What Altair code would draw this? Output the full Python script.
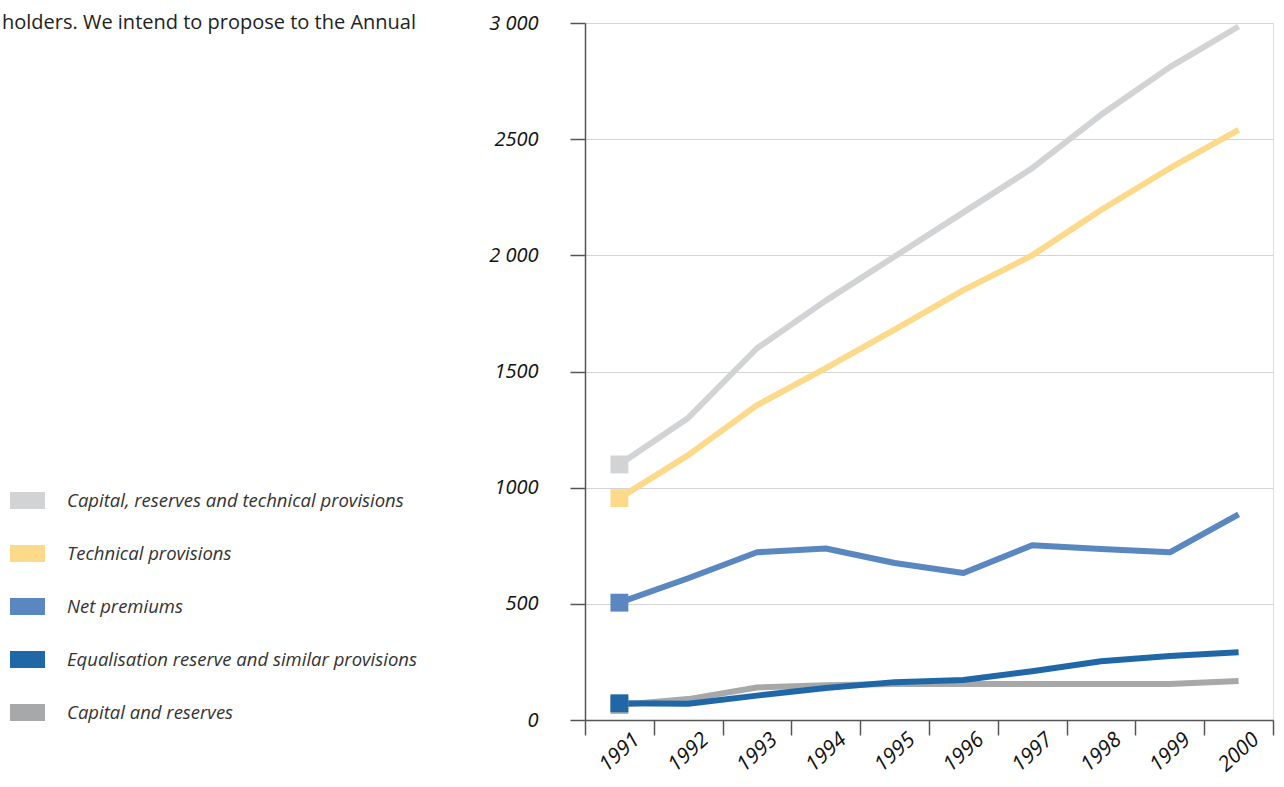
import altair as alt
import pandas as pd

years = ["1991", "1992", "1993", "1994", "1995", "1996", "1997", "1998", "1999", "2000"]

series_names = [
    "Capital, reserves and technical provisions",
    "Technical provisions",
    "Net premiums",
    "Equalisation reserve and similar provisions",
    "Capital and reserves",
]
series_colors = ["#d2d3d5", "#fdd98a", "#5b87c0", "#2067a8", "#a7a8aa"]

capital_reserves_technical = [1100, 1300, 1600, 1805, 1995, 2185, 2375, 2605, 2810, 2985]
technical_provisions = [955, 1140, 1355, 1515, 1680, 1850, 2000, 2195, 2375, 2540]
net_premiums = [505, 610, 722, 738, 676, 633, 752, 736, 722, 885]
equalisation_reserve = [72, 70, 105, 138, 163, 172, 210, 253, 275, 292]
capital_and_reserves = [65, 90, 140, 150, 155, 155, 155, 155, 155, 168]

intro_text = "holders. We intend to propose to the Annual"

# drawing order: capital and reserves sits beneath the equalisation line
rows = []
for name, values in [
    (series_names[0], capital_reserves_technical),
    (series_names[1], technical_provisions),
    (series_names[2], net_premiums),
    (series_names[4], capital_and_reserves),
    (series_names[3], equalisation_reserve),
]:
    for year, value in zip(years, values):
        rows.append({"year": year, "series": name, "value": value})
df = pd.DataFrame(rows)

FONT = "Open Sans"

x_enc = alt.X(
    "year:N",
    scale=alt.Scale(type="band", domain=years, paddingInner=0, paddingOuter=0),
    axis=alt.Axis(
        title=None,
        tickBand="extent",
        grid=False,
        domainColor="#555555",
        domainWidth=1.5,
        tickColor="#555555",
        tickWidth=1.5,
        tickSize=15,
        labelAngle=-42,
        labelAlign="center",
        labelBaseline="middle",
        labelPadding=17,
        labelFont=FONT,
        labelFontStyle="italic",
        labelFontSize=21,
        labelColor="#111111",
    ),
)
y_enc = alt.Y(
    "value:Q",
    scale=alt.Scale(domain=[0, 3000], nice=False, zero=True),
    axis=alt.Axis(
        title=None,
        values=[0, 500, 1000, 1500, 2000, 2500, 3000],
        format="d",
        labelExpr="datum.value == 3000 ? '3 000' : datum.value == 2000 ? '2 000' : datum.label",
        grid=True,
        gridColor="#d4d4d4",
        gridWidth=1.2,
        domainColor="#555555",
        domainWidth=1.5,
        tickColor="#555555",
        tickWidth=1.5,
        tickSize=15,
        labelPadding=32,
        labelFont=FONT,
        labelFontStyle="italic",
        labelFontSize=20,
        labelColor="#111111",
    ),
)
color_scale = alt.Scale(domain=series_names, range=series_colors)

legend = alt.Legend(
    title=None,
    orient="none",
    legendX=-575,
    legendY=460,
    symbolType="M-1,-0.486H1V0.486H-1Z",
    symbolSize=1225,
    symbolStrokeWidth=0,
    symbolOpacity=1,
    labelFont=FONT,
    labelFontStyle="italic",
    labelFontSize=18.5,
    labelColor="#333333",
    labelOffset=22,
    labelLimit=500,
    rowPadding=26,
)

lines = alt.Chart(df).mark_line(strokeWidth=6, strokeJoin="round", strokeCap="butt").encode(
    x=x_enc,
    y=y_enc,
    color=alt.Color("series:N", scale=color_scale, legend=legend),
)

starts = alt.Chart(df).transform_filter(alt.datum.year == "1991").mark_point(
    shape="square", filled=True, size=320, opacity=1
).encode(
    x=alt.X("year:N"),
    y=alt.Y("value:Q"),
    color=alt.Color("series:N", scale=color_scale, legend=legend),
)

intro = alt.Chart(pd.DataFrame({"t": [intro_text]})).mark_text(
    align="right", baseline="middle", font=FONT, fontSize=20, color="#222222"
).encode(
    text="t:N",
    x=alt.value(-169),
    y=alt.value(0),
)

chart = alt.layer(lines, starts, intro).properties(
    width=688,
    height=697,
    autosize=alt.AutoSizeParams(type="none"),
    padding={"left": 585, "top": 23, "right": 11, "bottom": 67},
).configure_view(stroke=None).configure(background="white")

chart.save("out.html", embed_options={"renderer": "svg", "actions": False})
